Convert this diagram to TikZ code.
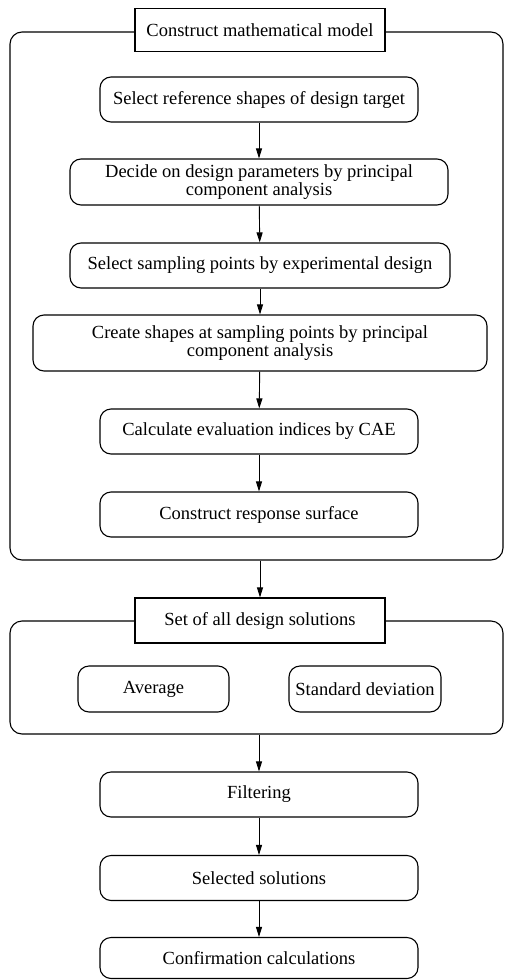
\documentclass[tikz,border=0pt]{standalone}
\usepackage{fontspec}
\setmainfont{Liberation Serif}
\usetikzlibrary{arrows.meta}
\begin{document}
\begin{tikzpicture}[x=1pt,y=1pt,
  font=\fontsize{18.5}{18}\selectfont,
  line width=1.1pt,
  frame/.style={draw, rounded corners=12pt, inner sep=0pt},
  titlebox/.style={draw, fill=white, minimum width=250pt, minimum height=43pt, inner sep=0pt},
  stepbox/.style={draw, rounded corners=11pt, minimum height=45pt, inner sep=0pt, align=center},
  arr/.style={-{Triangle[length=10pt,width=6pt]}, line width=0.9pt}
]
\useasboundingbox (0,0) rectangle (505,-980);
% frames
\node[frame, minimum width=493pt, minimum height=528pt] (f1) at (256.5,-296) {};
\node[frame, minimum width=493pt, minimum height=113pt] (f2) at (256.5,-677.5) {};
% titles
\node[titlebox] (t1) at (260,-30) {Construct mathematical model};
\node[titlebox, minimum height=45pt] (t2) at (260,-620.5) {Set of all design solutions};
% steps in model
\node[stepbox, minimum width=318pt] (b1) at (259,-99.5) {Select reference shapes of design target};
\node[stepbox, minimum width=378pt, minimum height=46pt] (b2) at (259,-182) {Decide on design parameters by principal\\component analysis};
\node[stepbox, minimum width=380pt] (b3) at (260,-265.5) {Select sampling points by experimental design};
\node[stepbox, minimum width=454pt, minimum height=56pt] (b4) at (260,-343) {Create shapes at sampling points by principal\\component analysis};
\node[stepbox, minimum width=318pt] (b5) at (259,-431.5) {Calculate evaluation indices by CAE};
\node[stepbox, minimum width=318pt] (b6) at (259,-514.5) {Construct response surface};
% statistics
\node[stepbox, minimum width=151pt, minimum height=46pt] (avg) at (153.5,-689) {Average};
\node[stepbox, minimum width=152pt, minimum height=46pt] (sd) at (365,-689) {Standard deviation};
% final steps
\node[stepbox, minimum width=318pt] (c1) at (259,-794.5) {Filtering};
\node[stepbox, minimum width=318pt] (c2) at (259,-878) {Selected solutions};
\node[stepbox, minimum width=318pt, minimum height=41pt] (c3) at (259,-958) {Confirmation calculations};
% arrows
\draw[arr] (b1) -- (b2);
\draw[arr] (b2) -- (b3);
\draw[arr] (b3) -- (b4);
\draw[arr] (b4) -- (b5);
\draw[arr] (b5) -- (b6);
\draw[arr] (f1.south -| t2.north) -- (t2.north);
\draw[arr] (f2.south -| c1.north) -- (c1.north);
\draw[arr] (c1) -- (c2);
\draw[arr] (c2) -- (c3);
\end{tikzpicture}
\end{document}
